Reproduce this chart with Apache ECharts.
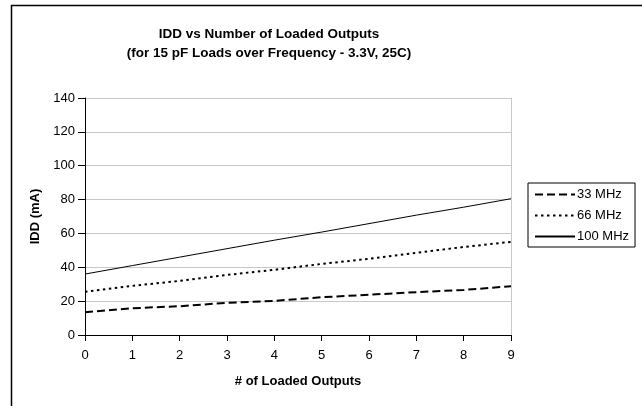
<!DOCTYPE html>
<html>
<head>
<meta charset="utf-8">
<script src="https://cdn.jsdelivr.net/npm/echarts@6/dist/echarts.min.js"></script>
<style>
  html, body { margin: 0; padding: 0; background: #fff; }
  #chart { width: 642px; height: 406px; }
</style>
</head>
<body>
<div id="chart"></div>
<script>
// chart values
const outputs = ['0', '1', '2', '3', '4', '5', '6', '7', '8', '9'];
const mhz33 = [13.5, 15.8, 17, 19, 20.2, 22.3, 23.8, 25.3, 26.6, 28.8];
const mhz66 = [25.5, 29, 32, 35.5, 38.5, 42, 45, 48.5, 52, 55];
const mhz100 = [36, 41, 46, 51, 56, 60.8, 65.8, 70.8, 75.5, 80.5];
const seriesNames = ['33 MHz', '66 MHz', '100 MHz'];

const font = 'Liberation Sans, Arial, sans-serif';

const chart = echarts.init(document.getElementById('chart'));

chart.setOption({
  backgroundColor: '#fff',
  animation: false,
  textStyle: { fontFamily: font },
  title: {
    text: 'IDD vs Number of Loaded Outputs\n(for 15 pF Loads over Frequency - 3.3V, 25C)',
    left: 264,
    top: 20,
    textAlign: 'center',
    textStyle: { fontFamily: font, fontSize: 13.5, fontWeight: 'bold', color: '#000', lineHeight: 19 }
  },
  legend: {
    orient: 'vertical',
    left: 528,
    top: 183,
    padding: [5, 6, 4, 6],
    itemWidth: 40,
    itemHeight: 14,
    itemGap: 8,
    borderColor: '#000',
    borderWidth: 1,
    itemStyle: { opacity: 0 },
    data: seriesNames,
    textStyle: { fontFamily: font, fontSize: 13, color: '#000', padding: [0, 0, 0, -3] }
  },
  graphic: [{
    type: 'rect',
    shape: { x: 11.5, y: 5.5, width: 700, height: 500 },
    style: { fill: 'none', stroke: '#000', lineWidth: 1.5 },
    silent: true
  }],
  grid: { left: 85, right: 131, top: 98, bottom: 71 },
  xAxis: {
    type: 'category',
    data: outputs,
    boundaryGap: false,
    name: '# of Loaded Outputs',
    nameLocation: 'middle',
    nameGap: 40,
    nameTextStyle: { fontFamily: font, fontSize: 13, fontWeight: 'bold', color: '#000' },
    axisLine: { lineStyle: { color: '#000', width: 1 } },
    axisTick: { alignWithLabel: true, length: 6, lineStyle: { color: '#000' } },
    axisLabel: { fontFamily: font, fontSize: 13, color: '#000', margin: 14 },
    splitLine: { show: false }
  },
  yAxis: [{
    type: 'value',
    min: 0,
    max: 140,
    interval: 20,
    name: 'IDD (mA)',
    nameLocation: 'middle',
    nameGap: 41,
    nameTextStyle: { fontFamily: font, fontSize: 13, fontWeight: 'bold', color: '#000' },
    axisLine: { show: true, lineStyle: { color: '#000', width: 1 } },
    axisTick: { show: true, length: 7, lineStyle: { color: '#000' } },
    axisLabel: { fontFamily: font, fontSize: 13, color: '#000', margin: 10 },
    splitLine: { show: true, lineStyle: { color: '#c8c8c8', width: 1 } }
  }, {
    // plot area right border
    type: 'value',
    position: 'right',
    min: 0,
    max: 140,
    interval: 20,
    axisLine: { show: true, lineStyle: { color: '#c8c8c8', width: 1 } },
    axisTick: { show: false },
    axisLabel: { show: false },
    splitLine: { show: false }
  }],
  series: [{
    name: seriesNames[0],
    type: 'line',
    data: mhz33,
    symbol: 'none',
    lineStyle: { color: '#000', width: 2, type: [8, 4] },
    itemStyle: { color: '#000' }
  }, {
    name: seriesNames[1],
    type: 'line',
    data: mhz66,
    symbol: 'none',
    lineStyle: { color: '#000', width: 2, type: [2.5, 3.5] },
    itemStyle: { color: '#000' }
  }, {
    name: seriesNames[2],
    type: 'line',
    data: mhz100,
    symbol: 'none',
    lineStyle: { color: '#000', width: 1 },
    itemStyle: { color: '#000' }
  }]
});
</script>
</body>
</html>
